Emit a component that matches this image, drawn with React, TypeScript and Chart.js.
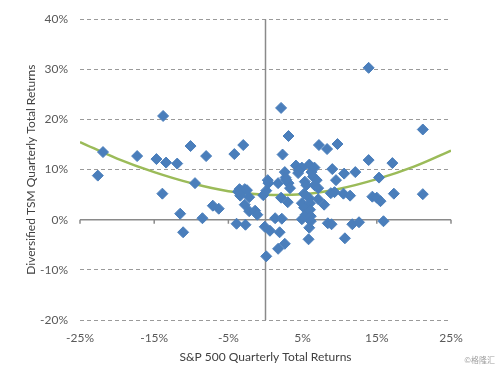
import React, { useEffect, useRef } from 'react';
import { Chart, registerables } from 'chart.js';

Chart.register(...registerables);

// S&P 500 quarterly total returns (%), x values
const sp500Returns = [
  -22.6, -21.9, -17.3, -14.7, -13.8, -13.4, -13.9, -11.9, -11.5, -11.1,
  -10.1, -9.5, -8.5, -8.0, -7.1, -6.3, -4.2, -3.0, -3.9, -2.7,
  -3.5, -2.8, -3.4, -2.2, -2.8, -2.2, -1.4, -1.1, -0.3, 0.1,
  0.4, 0.3, -0.1, 0.6, 0.1, 1.7, 2.1, 2.3, 2.1, 1.3,
  2.2, 1.9, 1.7, 2.6, 3.1, 2.6, 2.7, 3.1, 3.3, 3.0,
  4.1, 4.4, 4.9, 5.3, 5.5, 5.2, 4.9, 5.2, 4.9, 5.4,
  5.9, 6.2, 6.6, 6.4, 6.9, 6.6, 7.1, 5.9, 6.0, 6.0,
  6.1, 6.1, 5.9, 5.8, 7.2, 7.1, 7.9, 8.3, 8.4, 9.0,
  9.5, 9.7, 8.8, 9.3, 8.9, 10.6, 12.1, 10.5, 11.4, 10.7,
  11.7, 12.6, 13.9, 13.9, 15.3, 14.4, 15.0, 15.5, 15.9, 17.1,
  17.3, 21.2, 21.2, -3.7, -2.5, 4.5, 2.8
];

// Diversified TSM quarterly total returns (%), y values
const tsmReturns = [
  8.8, 13.5, 12.7, 12.1, 20.7, 11.4, 5.2, 11.2, 1.2, -2.5,
  14.7, 7.3, 0.3, 12.7, 2.8, 2.2, 13.1, 14.9, -0.8, -1.0,
  6.1, 6.1, 4.8, 4.5, 3.0, 1.7, 1.8, 1.0, 4.9, 5.8,
  7.3, 7.9, -1.4, -2.2, -7.3, 7.3, 22.3, 13.0, 4.4, 0.3,
  0.2, -2.5, -5.8, -4.8, 16.7, 9.5, 8.4, 7.3, 6.3, 3.5,
  10.8, 9.3, 10.4, 7.6, 6.9, 5.2, 3.3, 2.4, 0.1, 1.0,
  11.0, 9.5, 10.4, 8.6, 7.9, 6.9, 6.3, 4.3, 3.3, 2.0,
  0.7, -0.3, -1.6, -3.9, 14.9, 4.1, 3.0, 14.1, -0.7, 10.1,
  7.9, 15.1, 5.3, 5.5, -0.9, 9.2, 9.5, 5.2, 4.8, -3.7,
  -0.9, -0.5, 30.3, 11.9, 8.4, 4.6, 4.4, 3.7, -0.3, 11.3,
  5.2, 18.0, 5.1, 5.6, 5.9, 9.8, 8.0
];

// Quadratic trend line
const trendX = [-25, -20, -15, -10, -5, 0, 5, 10, 15, 20, 25];
const trendY = [15.5, 12.2, 9.5, 7.3, 5.7, 5.0, 5.1, 6.2, 8.1, 10.6, 13.8];

const xTicks = [-25, -15, -5, 5, 15, 25];
const yTicks = [-20, -10, 0, 10, 20, 30, 40];

const xTitle = 'S&P 500 Quarterly Total Returns';
const yTitle = 'Diversified TSM Quarterly Total Returns';
const watermark = '©格隆汇';

const FONT = 'Lato, "Liberation Sans", sans-serif';

const zeroAxes = {
  id: 'zeroAxes',
  beforeDatasetsDraw(chart: any) {
    const { ctx, chartArea, scales } = chart;
    const x = scales.x;
    const y = scales.y;
    const x0 = x.getPixelForValue(0);
    const y0 = y.getPixelForValue(0);
    ctx.save();
    ctx.strokeStyle = '#8a8a8a';
    ctx.lineWidth = 1.5;
    ctx.beginPath();
    ctx.moveTo(x0, chartArea.top);
    ctx.lineTo(x0, chartArea.bottom);
    ctx.moveTo(chartArea.left, y0);
    ctx.lineTo(chartArea.right, y0);
    xTicks.forEach((v) => {
      const px = x.getPixelForValue(v);
      ctx.moveTo(px, y0);
      ctx.lineTo(px, y0 + 4);
    });
    ctx.stroke();
    ctx.restore();
  },
};

export default function App() {
  const canvasRef = useRef<HTMLCanvasElement | null>(null);

  useEffect(() => {
    if (!canvasRef.current) return;
    const points = sp500Returns.map((v, i) => ({ x: v, y: tsmReturns[i] }));
    const trend = trendX.map((v, i) => ({ x: v, y: trendY[i] }));
    const chart = new Chart(canvasRef.current, {
      type: 'scatter',
      data: {
        datasets: [
          {
            label: 'Quarters',
            data: points,
            pointStyle: 'rectRot',
            pointRadius: 5.5,
            backgroundColor: '#4A7EBB',
            borderColor: '#4A7EBB',
            borderWidth: 1,
            order: 0,
          },
          {
            label: 'Trend',
            data: trend,
            showLine: true,
            borderColor: '#9BBB59',
            borderWidth: 2.5,
            pointRadius: 0,
            tension: 0.4,
            order: 1,
          },
        ],
      },
      options: {
        responsive: false,
        animation: false,
        layout: { padding: { top: 14, right: 48, left: 0, bottom: 0 } },
        plugins: {
          legend: { display: false },
          tooltip: { enabled: false },
        },
        scales: {
          x: {
            type: 'linear',
            min: -25,
            max: 25,
            afterFit: (s: any) => { s.height = 48; },
            afterBuildTicks: (s: any) => { s.ticks = xTicks.map((v) => ({ value: v })); },
            grid: { display: false, drawTicks: false },
            border: { display: false },
            ticks: {
              padding: 11,
              color: '#595959',
              font: { family: FONT, size: 12 },
              callback: (v: any) => v + '%',
            },
            title: {
              display: true,
              text: xTitle,
              color: '#404040',
              font: { family: FONT, size: 12 },
              padding: { top: 0, bottom: 4 },
            },
          },
          y: {
            type: 'linear',
            min: -20,
            max: 40,
            afterFit: (s: any) => { s.width = 80; },
            afterBuildTicks: (s: any) => { s.ticks = yTicks.map((v) => ({ value: v })); },
            grid: {
              drawTicks: false,
              lineWidth: 1,
              color: (c: any) => (c.tick && c.tick.value === 0 ? 'rgba(0,0,0,0)' : '#9a9a9a'),
            },
            border: { display: false, dash: [4, 3] },
            ticks: {
              padding: 12,
              color: '#595959',
              font: { family: FONT, size: 12 },
              callback: (v: any) => v + '%',
            },
            title: {
              display: true,
              text: yTitle,
              color: '#404040',
              font: { family: FONT, size: 12 },
              padding: { top: 24, bottom: 0 },
            },
          },
        },
      },
      plugins: [zeroAxes],
    });
    return () => chart.destroy();
  }, []);

  return (
    <div style={{ position: 'fixed', left: 0, top: 0, width: 499, height: 368, background: '#fff' }}>
      <canvas ref={canvasRef} width={499} height={368} style={{ display: 'block' }} />
      <span
        style={{
          position: 'absolute',
          right: 4,
          top: 355,
          fontFamily: '"Noto Sans CJK SC", sans-serif',
          fontSize: 8,
          color: '#a0a0a0',
          lineHeight: '10px',
        }}
      >
        {watermark}
      </span>
    </div>
  );
}
